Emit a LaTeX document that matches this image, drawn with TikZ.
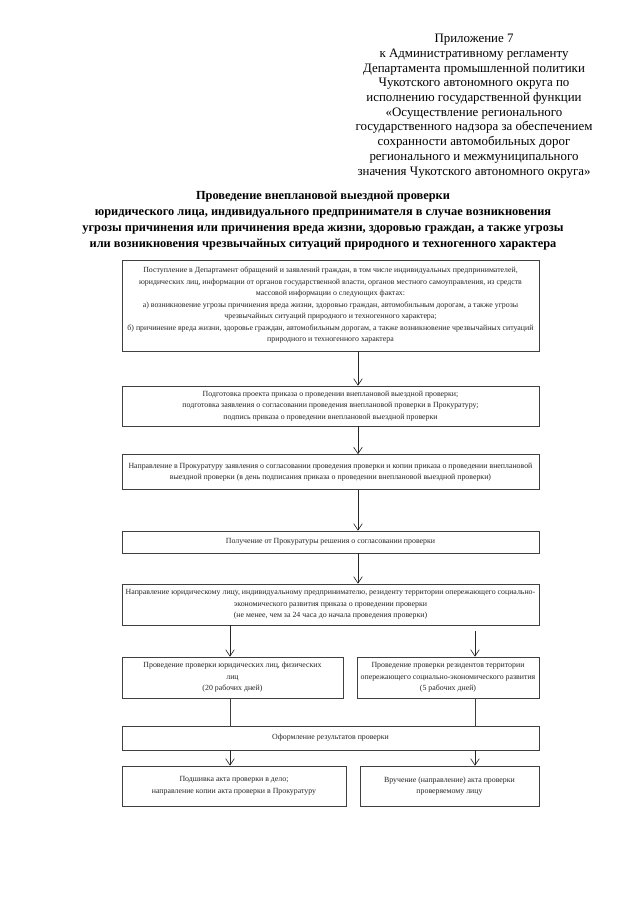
\documentclass[tikz,border=0pt]{standalone}
\usepackage{fontspec}
\setmainfont{Liberation Serif}
\usetikzlibrary{arrows.meta}
\begin{document}
\begin{tikzpicture}[x=0.93pt,y=-0.93pt,
  sz/.style 2 args={minimum width=#1*0.93pt, minimum height=#2*0.93pt},
  box/.style={draw=black!75, line width=0.6pt, rectangle, inner sep=0pt, align=center,
    text=black!85, font=\fontsize{7.3}{10.7}\selectfont},
  arr/.style={draw=black!85, line width=0.6pt, -{Straight Barb[length=6pt,width=8pt]}},
  ln/.style={draw=black!75, line width=0.6pt},
  hdr/.style={align=center, inner sep=0pt, font=\fontsize{12}{13.7}\selectfont},
  ttl/.style={align=center, inner sep=0pt, font=\fontsize{11.5}{14.9}\selectfont\bfseries}]
\fill[white] (0,0) rectangle (640,905);
\useasboundingbox (0,0) rectangle (640,905);

\node[hdr] (hdr) at (474,106) {Приложение 7\\
к Административному регламенту\\
Департамента промышленной политики\\
Чукотского автономного округа по\\
исполнению государственной функции\\
«Осуществление регионального\\
государственного надзора за обеспечением\\
сохранности автомобильных дорог\\
регионального и межмуниципального\\
значения Чукотского автономного округа»};

\node[ttl] (ttl) at (323,221) {Проведение внеплановой выездной проверки\\
юридического лица, индивидуального предпринимателя в случае возникновения\\
угрозы причинения или причинения вреда жизни, здоровью граждан, а также угрозы\\
или возникновения чрезвычайных ситуаций природного и техногенного характера};

\coordinate (cx) at (358,0);
\coordinate (lx) at (230,0);
\coordinate (rx) at (475,0);

\node[box, sz={417}{91}] (b1) at (330.5,305.5) {Поступление в Департамент обращений и заявлений граждан, в том числе индивидуальных предпринимателей,\\
юридических лиц, информации от органов государственной власти, органов местного самоуправления, из средств\\
массовой информации о следующих фактах:\\
а) возникновение угрозы причинения вреда жизни, здоровью граждан, автомобильным дорогам, а также угрозы\\
чрезвычайных ситуаций природного и техногенного характера;\\
б) причинение вреда жизни, здоровье граждан, автомобильным дорогам, а также возникновение чрезвычайных ситуаций\\
природного и техногенного характера};

\node[box, sz={417}{40}] (b2) at (330.5,406) {Подготовка проекта приказа о проведении внеплановой выездной проверки;\\
подготовка заявления о согласовании проведения внеплановой проверки в Прокуратуру;\\
подпись приказа о проведении внеплановой выездной проверки};

\node[box, sz={417}{35}] (b3) at (330.5,472) {Направление в Прокуратуру заявления о согласовании проведения проверки и копии приказа о проведении внеплановой\\
выездной проверки (в день подписания приказа о проведении внеплановой выездной проверки)};

\node[box, sz={417}{22}] (b4) at (330.5,542) {Получение от Прокуратуры решения о согласовании проверки};

\node[box, sz={417}{41}] (b5) at (330.5,604.5) {Направление юридическому лицу, индивидуальному предпринимателю, резиденту территории опережающего социально-\\
экономического развития приказа о проведении проверки\\
(не менее, чем за 24 часа до начала проведения проверки)};

\node[box, sz={221}{41}] (b6) at (232.5,677.5) {Проведение проверки юридических лиц, физических\\
лиц\\
(20 рабочих дней)};

\node[box, sz={182}{41}] (b7) at (448,677.5) {Проведение проверки резидентов территории\\
опережающего социально-экономического развития\\
(5 рабочих дней)};

\node[box, sz={417}{24}] (b8) at (330.5,738) {Оформление результатов проверки};

\node[box, sz={224}{40}] (b9) at (234,786) {Подшивка акта проверки в дело;\\
направление копии акта проверки в Прокуратуру};

\node[box, sz={179}{40}] (b10) at (449.5,786) {Вручение (направление) акта проверки\\
проверяемому лицу};

\coordinate (r0) at (475,631);

\draw[arr] (b1.south -| cx) -- (b2.north -| cx);
\draw[arr] (b2.south -| cx) -- (b3.north -| cx);
\draw[arr] (b3.south -| cx) -- (b4.north -| cx);
\draw[arr] (b4.south -| cx) -- (b5.north -| cx);
\draw[arr] (b5.south -| lx) -- (b6.north -| lx);
\draw[arr] (r0) -- (b7.north -| r0);
\draw[ln] (b6.south -| lx) -- (b8.north -| lx);
\draw[ln] (b7.south -| rx) -- (b8.north -| rx);
\draw[arr] (b8.south -| lx) -- (b9.north -| lx);
\draw[arr] (b8.south -| rx) -- (b10.north -| rx);
\end{tikzpicture}
\end{document}
